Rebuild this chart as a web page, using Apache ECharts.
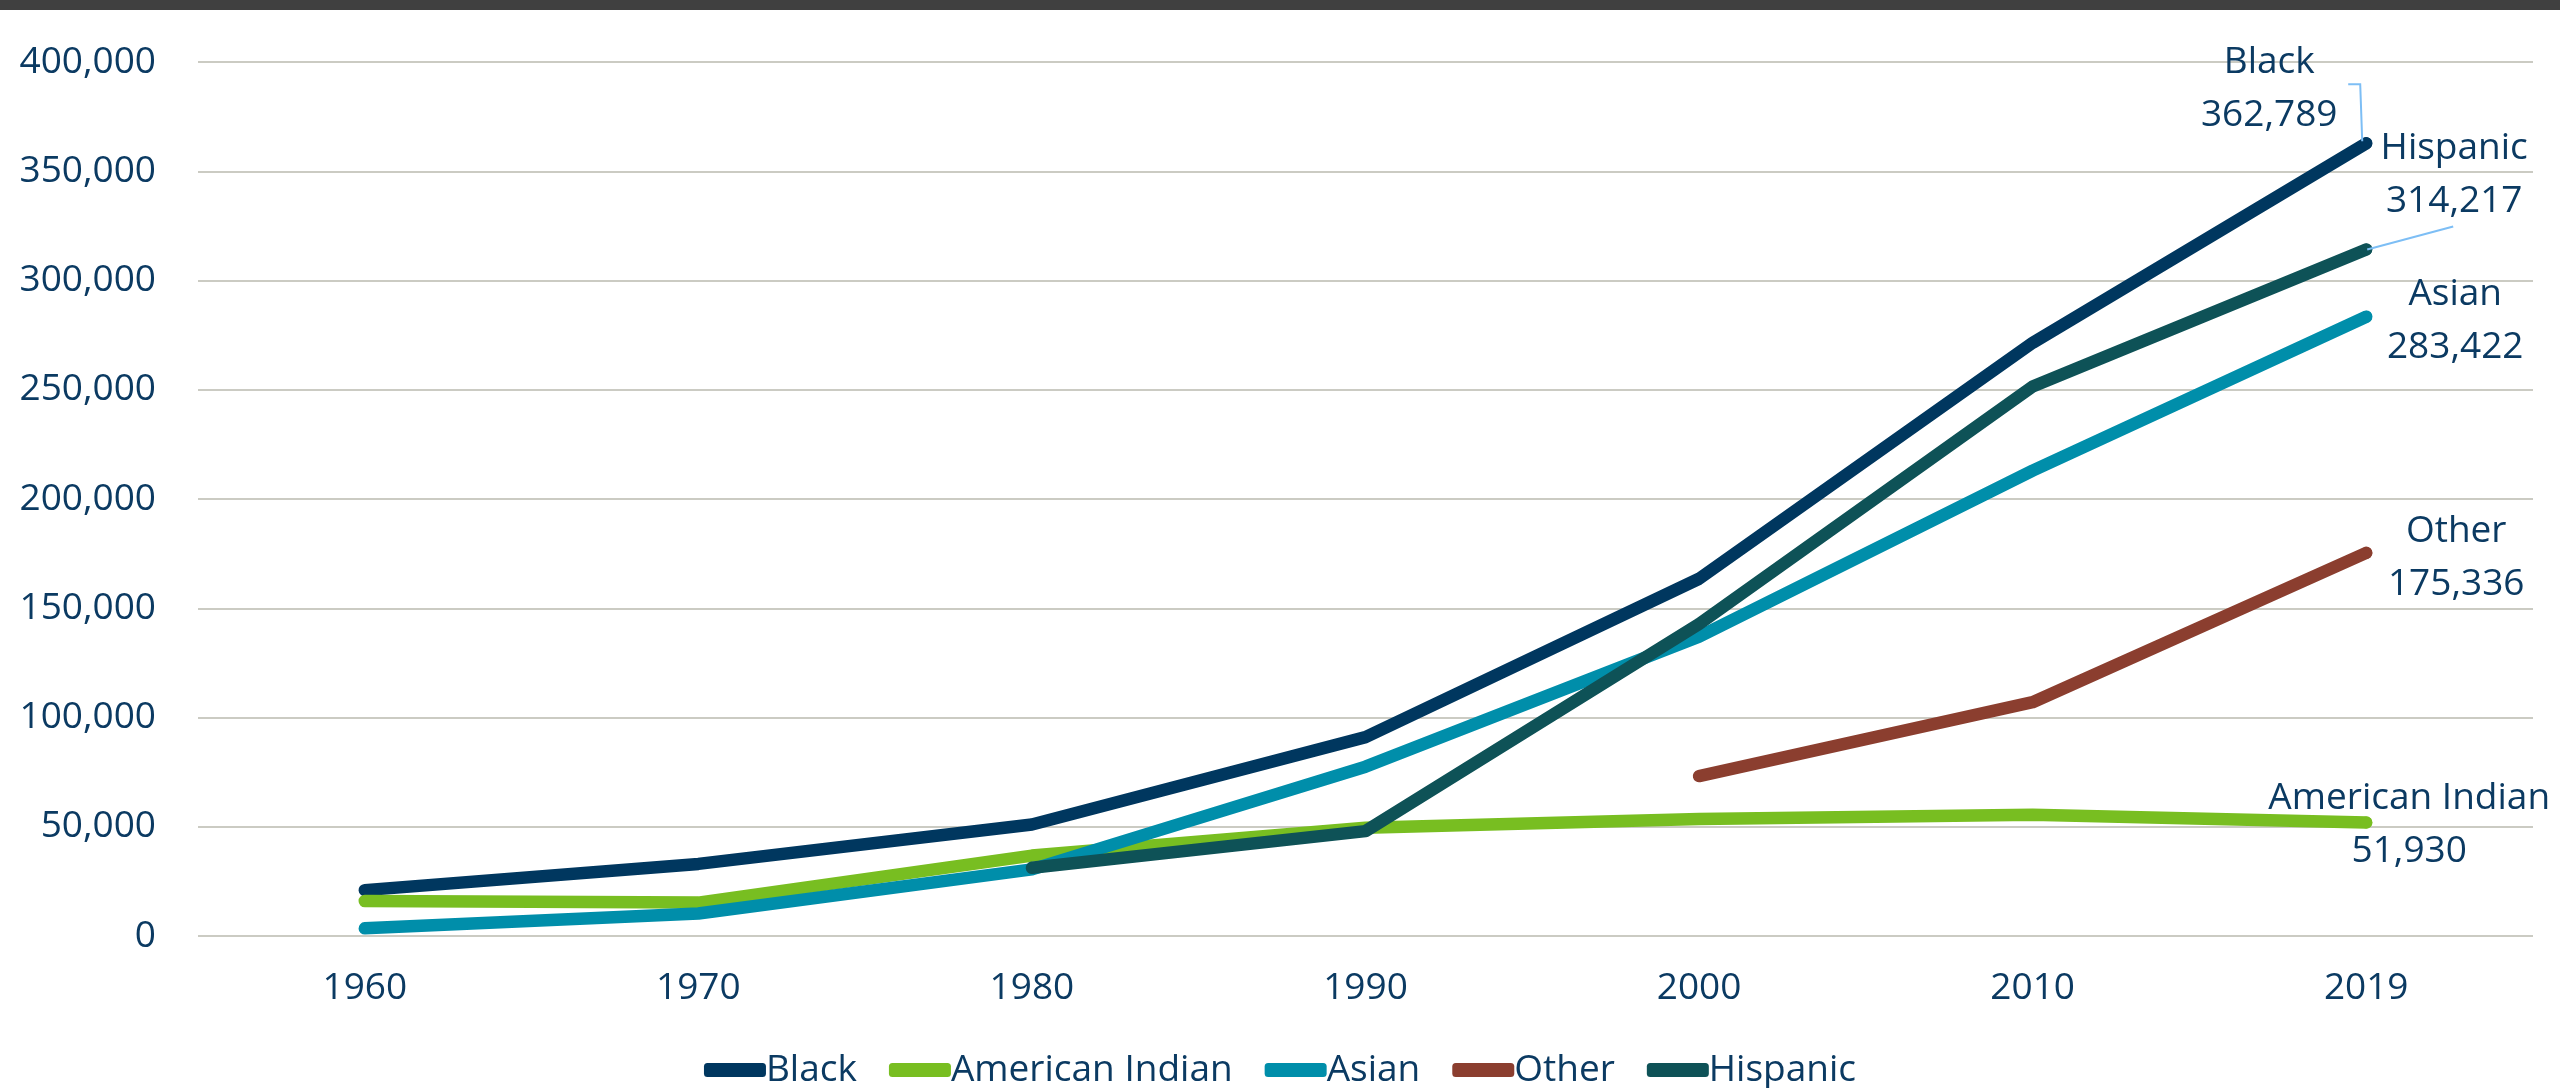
<!DOCTYPE html>
<html>
<head>
<meta charset="utf-8">
<script src="https://cdn.jsdelivr.net/npm/echarts@6/dist/echarts.min.js"></script>
<style>
html,body{margin:0;padding:0;background:#fff;}
#chart{width:2560px;height:1088px;}
</style>
</head>
<body>
<div id="chart"></div>
<script>
const years = ['1960','1970','1980','1990','2000','2010','2019'];
const black = [21000, 33000, 51000, 91000, 163500, 271500, 362789];
const americanIndian = [16000, 15300, 36800, 49500, 53500, 55500, 51930];
const asian = [3500, 10300, 30500, 77500, 137000, 213000, 283422];
const other = [null, null, null, null, 73200, 107000, 175336];
const hispanic = [null, null, 31200, 48000, 142800, 251500, 314217];
const yTicks = { min: 0, max: 400000, interval: 50000 };

const seriesNames = ['Black', 'American Indian', 'Asian', 'Other', 'Hispanic'];
const seriesData = [black, americanIndian, asian, other, hispanic];
const colors = ['#00375F', '#78BE21', '#008EAA', '#8B3E2F', '#0E5257'];
const labelOffsets = [[-97, -54], [43, 2], [89, 4], [90, 5], [88, -74]];

const textColor = '#0B3A62';
const fontFamily = '"Open Sans", "Noto Sans", sans-serif';

function buildData(arr) {
  const last = arr.length - 1;
  return arr.map((v, i) => {
    if (i === last) {
      return {
        value: v,
        symbol: 'circle',
        symbolSize: 12,
        label: {
          show: true,
          position: 'inside',
          align: 'center',
          verticalAlign: 'middle',
          color: textColor,
          fontFamily: fontFamily,
          fontSize: 37,
          lineHeight: 53,
          formatter: p => p.seriesName + '\n' + Number(p.value).toLocaleString('en-US')
        }
      };
    }
    return { value: v, symbol: 'none' };
  });
}

const series = seriesNames.map((name, idx) => ({
  name: name,
  type: 'line',
  data: buildData(seriesData[idx]),
  showSymbol: true,
  connectNulls: false,
  color: colors[idx],
  lineStyle: { width: 12.5, color: colors[idx], cap: 'round', join: 'round' },
  itemStyle: { color: colors[idx] },
  emphasis: { disabled: true },
  labelLayout: function () {
    return { dx: labelOffsets[idx][0], dy: labelOffsets[idx][1] };
  },
  z: 2 + idx
}));

const chart = echarts.init(document.getElementById('chart'), null, { renderer: 'canvas' });
chart.setOption({
  animation: false,
  backgroundColor: '#ffffff',
  grid: { left: 198, right: 27, top: 62, bottom: 152, containLabel: false },
  xAxis: {
    type: 'category',
    data: years,
    boundaryGap: true,
    axisLine: { show: false },
    axisTick: { show: false },
    axisLabel: { color: textColor, fontFamily: fontFamily, fontSize: 37, margin: 34 }
  },
  yAxis: {
    type: 'value',
    min: yTicks.min,
    max: yTicks.max,
    interval: yTicks.interval,
    axisLine: { show: false },
    axisTick: { show: false },
    splitLine: { lineStyle: { color: '#CBCBC3', width: 2 } },
    axisLabel: {
      color: textColor, fontFamily: fontFamily, fontSize: 37, margin: 42,
      formatter: v => Number(v).toLocaleString('en-US')
    }
  },
  legend: {
    data: seriesNames,
    left: 'center',
    top: 1042,
    icon: 'roundRect',
    itemWidth: 62,
    itemHeight: 14,
    itemGap: 32,
    textStyle: { color: textColor, fontFamily: fontFamily, fontSize: 37, lineHeight: 46, padding: [0, 0, 0, -5] }
  },
  series: series
});

// leader lines for the Black and Hispanic end labels, anchored on library-computed points
const lastIdx = years.length - 1;
const pBlack = chart.convertToPixel({ seriesIndex: 0 }, [lastIdx, black[lastIdx]]);
const pHisp = chart.convertToPixel({ seriesIndex: 4 }, [lastIdx, hispanic[lastIdx]]);
chart.setOption({
  graphic: [
    {
      type: 'rect', left: 0, top: 0,
      shape: { width: 2560, height: 10 },
      style: { fill: '#404040' }, z: 100
    },
    {
      type: 'polyline', z: 50, silent: true,
      shape: { points: [[pBlack[0] - 18, pBlack[1] - 59], [pBlack[0] - 6, pBlack[1] - 59], [pBlack[0] - 4, pBlack[1] - 2]] },
      style: { stroke: '#7DBEF5', lineWidth: 2, fill: null }
    },
    {
      type: 'polyline', z: 50, silent: true,
      shape: { points: [[pHisp[0] + 87, pHisp[1] - 23], [pHisp[0] + 1, pHisp[1]]] },
      style: { stroke: '#7DBEF5', lineWidth: 2, fill: null }
    }
  ]
});
</script>
</body>
</html>
